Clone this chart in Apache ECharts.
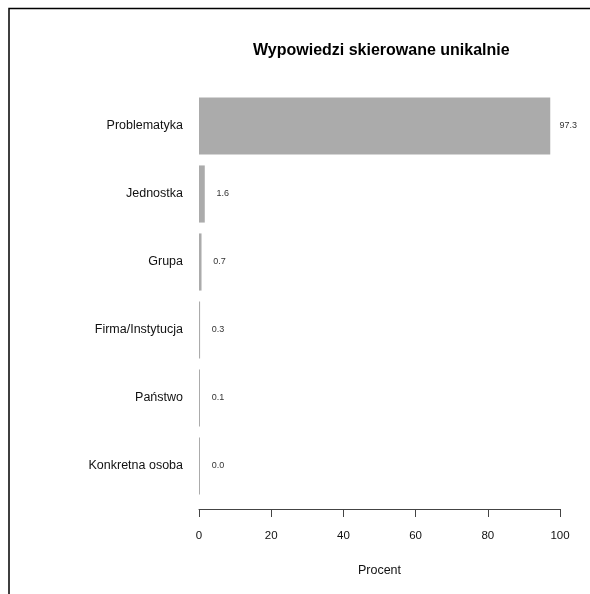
<!DOCTYPE html>
<html><head><meta charset="utf-8">
<script src="https://cdn.jsdelivr.net/npm/echarts@6/dist/echarts.min.js"></script>
<style>html,body{margin:0;padding:0;background:#fff}#c{width:590px;height:594px}</style>
</head><body><div id="c"></div>
<script>
var categories = ["Problematyka","Jednostka","Grupa","Firma/Instytucja","Państwo","Konkretna osoba"];
var values = [97.3, 1.6, 0.7, 0.3, 0.1, 0.0];
var xTicks = [0, 20, 40, 60, 80, 100];
var titleText = "Wypowiedzi skierowane unikalnie";
var xName = "Procent";

var font = "Liberation Sans, Arial, Helvetica, sans-serif";
var chart = echarts.init(document.getElementById('c'), null, {renderer:'canvas'});
chart.setOption({
  animation: false,
  backgroundColor: '#fff',
  title: {text: titleText, left: 248, top: 38,
    textStyle: {fontFamily: font, fontSize: 16, fontWeight: 'bold', color: '#000'}},
  grid: {left: 199, right: 30, top: 92, bottom: 94, containLabel: false},
  xAxis: {type: 'value', min: xTicks[0], max: xTicks[xTicks.length-1], interval: xTicks[1]-xTicks[0], offset: 9,
    name: xName, nameLocation: 'middle', nameGap: 55,
    nameTextStyle: {fontFamily: font, fontSize: 12.5, color: '#111'},
    axisLine: {show: true, lineStyle: {color: '#444', width: 1}},
    axisTick: {show: true, length: 8, lineStyle: {color: '#444'}},
    axisLabel: {fontFamily: font, fontSize: 11.5, color: '#111', margin: 21},
    splitLine: {show: false}},
  yAxis: {type: 'category', data: categories, inverse: true,
    axisLine: {show: false}, axisTick: {show: false},
    axisLabel: {fontFamily: font, fontSize: 12.5, color: '#111', margin: 16}},
  series: [{type: 'bar', data: values, barCategoryGap: '16%', barMinHeight: 1,
    itemStyle: {color: '#ababab'},
    label: {show: true, position: 'right', align: 'center', distance: 18,
      fontFamily: font, fontSize: 9, color: '#333',
      formatter: function(p){ return p.value.toFixed(1); }}}],
  graphic: [
    {type: 'polyline', shape: {points: [[9, 594], [9, 8.5], [590, 8.5]]},
     style: {stroke: '#000', lineWidth: 1.5, fill: null}}
  ]
});
</script></body></html>
